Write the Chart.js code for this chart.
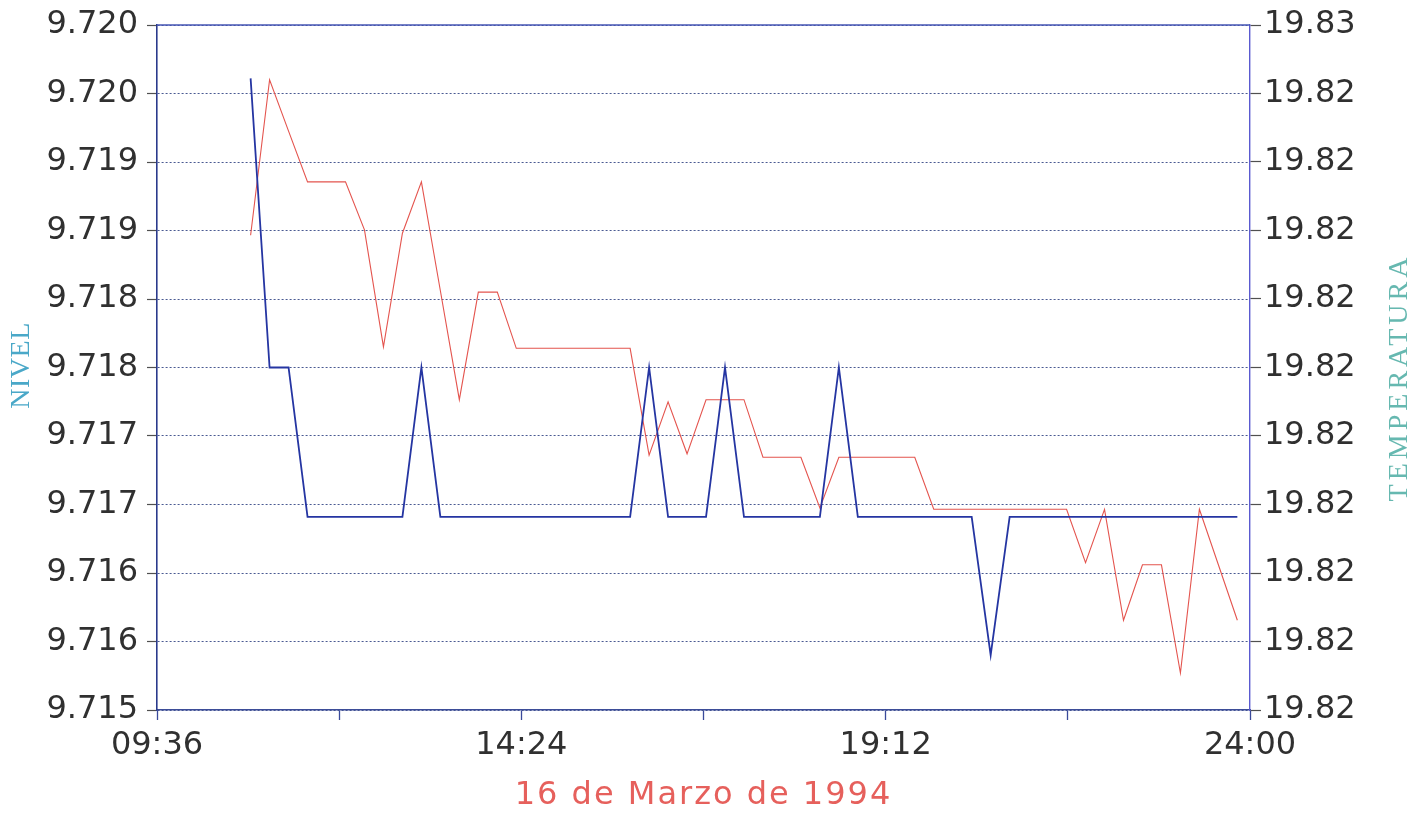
<!DOCTYPE html>
<html>
<head>
<meta charset="utf-8">
<title>Nivel y temperatura - 16 de Marzo de 1994</title>
<script src="https://cdn.jsdelivr.net/npm/chart.js@4/dist/chart.umd.min.js"></script>
<style>
  html, body { margin: 0; padding: 0; background: #ffffff; }
  #wrap { position: relative; width: 1426px; height: 813px; }
</style>
</head>
<body>
<div id="wrap"><canvas id="chart"></canvas></div>
<script>
// Sample times (every 15 minutes)
const sampleTimes = [
  '10:50','11:05','11:20','11:35','11:50','12:05','12:20','12:35','12:50','13:05',
  '13:20','13:35','13:50','14:05','14:20','14:35','14:50','15:05','15:20','15:35',
  '15:50','16:05','16:20','16:35','16:50','17:05','17:20','17:35','17:50','18:05',
  '18:20','18:35','18:50','19:05','19:20','19:35','19:50','20:05','20:20','20:35',
  '20:50','21:05','21:20','21:35','21:50','22:05','22:20','22:35','22:50','23:05',
  '23:20','23:35','23:50'
];

// Water level (left axis)
const nivel = [
  9.71961, 9.71750, 9.71750, 9.71641, 9.71641, 9.71641, 9.71641, 9.71641, 9.71641, 9.71750,
  9.71641, 9.71641, 9.71641, 9.71641, 9.71641, 9.71641, 9.71641, 9.71641, 9.71641, 9.71641,
  9.71641, 9.71750, 9.71641, 9.71641, 9.71641, 9.71750, 9.71641, 9.71641, 9.71641, 9.71641,
  9.71641, 9.71750, 9.71641, 9.71641, 9.71641, 9.71641, 9.71641, 9.71641, 9.71641, 9.71540,
  9.71641, 9.71641, 9.71641, 9.71641, 9.71641, 9.71641, 9.71641, 9.71641, 9.71641, 9.71641,
  9.71641, 9.71641, 9.71641
];

// Temperature (right axis)
const temperatura = [
  19.82693, 19.82920, 19.82845, 19.82771, 19.82771, 19.82771, 19.82701, 19.82530, 19.82696, 19.82771,
  19.82612, 19.82453, 19.82610, 19.82610, 19.82528, 19.82528, 19.82528, 19.82528, 19.82528, 19.82528,
  19.82528, 19.82372, 19.82450, 19.82374, 19.82453, 19.82453, 19.82453, 19.82369, 19.82369, 19.82369,
  19.82295, 19.82369, 19.82369, 19.82369, 19.82369, 19.82369, 19.82293, 19.82293, 19.82293, 19.82293,
  19.82293, 19.82293, 19.82293, 19.82293, 19.82215, 19.82293, 19.82131, 19.82212, 19.82212, 19.82054,
  19.82293, 19.82212, 19.82131
];

// Axis ticks
const timeTickValues = [576, 720, 864, 1008, 1152, 1296, 1440];
const timeTickLabels = ['09:36', '', '14:24', '', '19:12', '', '24:00'];
const nivelTickValues = [9.715, 9.7155, 9.716, 9.7165, 9.717, 9.7175, 9.718, 9.7185, 9.719, 9.7195, 9.720];
const nivelTickLabels = ['9.715', '9.716', '9.716', '9.717', '9.717', '9.718', '9.718', '9.719', '9.719', '9.720', '9.720'];
const tempTickValues = [19.820, 19.821, 19.822, 19.823, 19.824, 19.825, 19.826, 19.827, 19.828, 19.829, 19.830];
const tempTickLabels = ['19.82', '19.82', '19.82', '19.82', '19.82', '19.82', '19.82', '19.82', '19.82', '19.82', '19.83'];

const xTitle = '16 de Marzo de 1994';
const leftTitle = 'NIVEL';
const rightTitle = 'TEMPERATURA';

function toMinutes(t) {
  const [h, m] = t.split(':').map(Number);
  return h * 60 + m;
}

const nivelPoints = sampleTimes.map((t, i) => ({ x: toMinutes(t), y: nivel[i] }));
const tempPoints = sampleTimes.map((t, i) => ({ x: toMinutes(t), y: temperatura[i] }));

Chart.defaults.font.family = '"DejaVu Sans", sans-serif';

// Fixed axis box sizes so the plot frame sits at a known place
function fixBox(size, prop) {
  return function (scale) {
    scale[prop] = size;
    scale.paddingTop = 0;
    scale.paddingBottom = 0;
    scale.paddingLeft = 0;
    scale.paddingRight = 0;
  };
}

// Frame line on top and rotated / spaced axis titles
const framePlugin = {
  id: 'frameAndTitles',
  beforeDatasetsDraw(chart) {
    const { ctx, chartArea } = chart;
    ctx.save();
    ctx.strokeStyle = '#4656b4';
    ctx.lineWidth = 1.5;
    ctx.beginPath();
    ctx.moveTo(chartArea.left, chartArea.top);
    ctx.lineTo(chartArea.right, chartArea.top);
    ctx.stroke();
    ctx.restore();
  },
  afterDraw(chart) {
    const { ctx, chartArea } = chart;
    const midY = (chartArea.top + chartArea.bottom) / 2;

    ctx.save();
    ctx.translate(22, midY - 2);
    ctx.rotate(-Math.PI / 2);
    ctx.font = '28px "Liberation Serif", serif';
    ctx.letterSpacing = '0.5px';
    ctx.fillStyle = '#4aa8c8';
    ctx.textAlign = 'center';
    ctx.textBaseline = 'middle';
    ctx.fillText(leftTitle, 0, 0);
    ctx.restore();

    ctx.save();
    ctx.translate(1400, midY + 10);
    ctx.rotate(-Math.PI / 2);
    ctx.font = '28px "Liberation Serif", serif';
    ctx.letterSpacing = '4px';
    ctx.fillStyle = '#66b8b0';
    ctx.textAlign = 'center';
    ctx.textBaseline = 'middle';
    ctx.fillText(rightTitle, 0, 0);
    ctx.restore();

    ctx.save();
    ctx.font = '32px "DejaVu Sans", sans-serif';
    ctx.letterSpacing = '2px';
    ctx.fillStyle = '#e6605c';
    ctx.textAlign = 'center';
    ctx.textBaseline = 'alphabetic';
    ctx.fillText(xTitle, (chartArea.left + chartArea.right) / 2, 804);
    ctx.restore();
  }
};

new Chart(document.getElementById('chart'), {
  type: 'line',
  data: {
    datasets: [
      {
        label: leftTitle,
        data: nivelPoints,
        yAxisID: 'yNivel',
        borderColor: '#2535a2',
        borderWidth: 1.8,
        pointRadius: 0,
        tension: 0,
        fill: false
      },
      {
        label: rightTitle,
        data: tempPoints,
        yAxisID: 'yTemp',
        borderColor: '#e4544e',
        borderWidth: 1.1,
        pointRadius: 0,
        tension: 0,
        fill: false
      }
    ]
  },
  options: {
    responsive: true,
    maintainAspectRatio: false,
    animation: false,
    events: [],
    layout: { padding: { top: 25, left: 0, right: 0, bottom: 0 } },
    plugins: {
      legend: { display: false },
      tooltip: { enabled: false },
      title: { display: false }
    },
    scales: {
      x: {
        type: 'linear',
        position: 'bottom',
        min: 576,
        max: 1440,
        afterBuildTicks(scale) {
          scale.ticks = timeTickValues.map(v => ({ value: v }));
        },
        afterFit: fixBox(103, 'height'),
        ticks: {
          autoSkip: false,
          maxRotation: 0,
          padding: 6,
          color: '#303030',
          font: { size: 32 },
          callback: (v, i) => timeTickLabels[i]
        },
        grid: {
          display: true,
          drawOnChartArea: false,
          drawTicks: true,
          tickLength: 10,
          tickColor: '#3a4a9a',
          tickWidth: 1.3
        },
        border: { display: true, color: '#3d4d98', width: 1.5 }
      },
      yNivel: {
        type: 'linear',
        position: 'left',
        min: 9.715,
        max: 9.720,
        afterBuildTicks(scale) {
          scale.ticks = nivelTickValues.map(v => ({ value: v }));
        },
        afterFit: fixBox(157, 'width'),
        ticks: {
          padding: 9,
          color: '#303030',
          font: { size: 32 },
          callback: (v, i) => nivelTickLabels[i]
        },
        grid: {
          display: true,
          drawOnChartArea: true,
          drawTicks: true,
          color: '#4a5a92',
          lineWidth: 1,
          tickLength: 10,
          tickColor: '#505050',
          tickWidth: 1.2,
          tickBorderDash: []
        },
        border: { display: true, color: '#2a3a8c', width: 1.6, dash: [2, 2] }
      },
      yTemp: {
        type: 'linear',
        position: 'right',
        min: 19.820,
        max: 19.830,
        afterBuildTicks(scale) {
          scale.ticks = tempTickValues.map(v => ({ value: v }));
        },
        afterFit: fixBox(176, 'width'),
        ticks: {
          padding: 3,
          color: '#303030',
          font: { size: 32 },
          callback: (v, i) => tempTickLabels[i]
        },
        grid: {
          display: true,
          drawOnChartArea: false,
          drawTicks: true,
          tickLength: 11,
          tickColor: '#505050',
          tickWidth: 1.2
        },
        border: { display: true, color: '#5a5ad0', width: 1.4 }
      }
    }
  },
  plugins: [framePlugin]
});
</script>
</body>
</html>
